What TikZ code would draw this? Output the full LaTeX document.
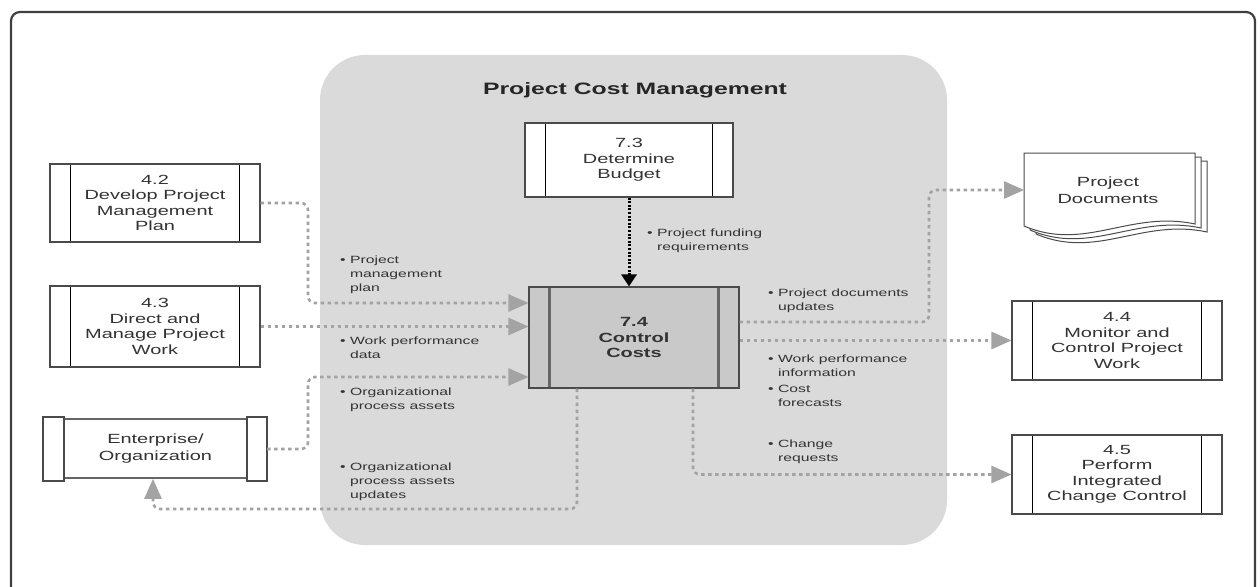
\documentclass[tikz,border=0pt]{standalone}
\usepackage{fontspec}
\setmainfont[FakeStretch=1.5]{Liberation Sans}
\usetikzlibrary{arrows.meta}
\definecolor{regiongray}{HTML}{DADADA}
\definecolor{ccfill}{HTML}{C9C9C9}
\definecolor{conngray}{HTML}{A3A3A3}
\definecolor{boxline}{HTML}{4A4A4A}
\definecolor{txtgray}{HTML}{333333}
\tikzset{
  procbase/.style={draw=boxline, line width=1.1pt, fill=white, minimum width=210pt,
    minimum height=#1, inner sep=0pt, align=center,
    font=\fontsize{13.3}{15.5}\selectfont, text=txtgray},
  procbase/.default=80pt,
  stripes/.style n args={2}{path picture={
    \draw[#1, line width=#2]
      ([xshift=20.5pt]path picture bounding box.north west) -- ([xshift=20.5pt]path picture bounding box.south west)
      ([xshift=-20.5pt]path picture bounding box.north east) -- ([xshift=-20.5pt]path picture bounding box.south east);}},
  proc/.style={procbase=#1, stripes={black}{1.2pt}},
  proc/.default=80pt,
  conn/.style={draw=conngray, line width=2.6pt, dash pattern=on 3.5pt off 3.5pt,
    rounded corners=7pt, -{Triangle[length=20pt,width=17pt,fill=conngray]}},
  fund/.style={draw=black, line width=3pt, dash pattern=on 2pt off 1.6pt,
    -{Triangle[length=12pt,width=15pt,fill=black]}},
  lbl/.style={font=\fontsize{10.5}{14}\selectfont, align=left, inner sep=0pt,
    anchor=north west, text=txtgray},
}
\newcommand{\ind}{\hphantom{\textbullet\ }}
\begin{document}
\begin{tikzpicture}[x=1pt,y=-1pt]
\useasboundingbox (0,0) rectangle (1260,586);
\clip (0,0) rectangle (1260,586);
\fill[white] (0,0) rectangle (1260,586);
% outer frame
\draw[line width=2.2pt, draw=black!75, rounded corners=9pt] (11,600) -- (11,12) -- (1255,12) -- (1255,600);
% process group region
\fill[regiongray, rounded corners=45pt] (320,55) rectangle (947,545);
\node[font=\bfseries\fontsize{16.5}{19}\selectfont, text=black!85] (title) at (635,90) {Project Cost Management};

% boxes
\node[proc=78pt] (b42) at (155,203) {4.2\\Develop Project\\Management\\Plan};
\node[proc=81pt] (b43) at (155,326.5) {4.3\\Direct and\\Manage Project\\Work};
\node[proc=74pt, minimum width=208pt] (b73) at (629,160) {7.3\\Determine\\Budget};
\node[procbase=101pt, fill=ccfill, stripes={black!60}{2.4pt},
      font=\bfseries\fontsize{13.3}{15.5}\selectfont] (b74) at (634,337.5) {7.4\\Control\\Costs};
\node[proc=79pt] (b44) at (1117,340.5) {4.4\\Monitor and\\Control Project\\Work};
\node[proc=79pt] (b45) at (1117,474.5) {4.5\\Perform\\Integrated\\Change Control};

% enterprise / organization
\node[draw=black!60, line width=1.6pt, fill=white, minimum width=183pt, minimum height=59pt,
      inner sep=0pt, align=center, font=\fontsize{13.3}{17.5}\selectfont, text=txtgray]
      (ent) at (155.5,448.5) {Enterprise/\\Organization};
\draw[boxline, line width=1.1pt, fill=white] (43,417) rectangle (64,481);
\draw[boxline, line width=1.1pt, fill=white] (247,417) rectangle (267,481);
\coordinate (entR) at (267,449);

% project documents
\begin{scope}[shift={(12,8)}]
\draw[boxline, line width=1pt, fill=white] (1024,153) -- (1195,153) -- (1195,224) .. controls (1130,210) and (1085,252) .. (1024,226) -- cycle;
\end{scope}
\begin{scope}[shift={(6,4)}]
\draw[boxline, line width=1pt, fill=white] (1024,153) -- (1195,153) -- (1195,224) .. controls (1130,210) and (1085,252) .. (1024,226) -- cycle;
\end{scope}
\draw[boxline, line width=1pt, fill=white] (1024,153) -- (1195,153) -- (1195,224) .. controls (1130,210) and (1085,252) .. (1024,226) -- cycle;
\node[align=center, font=\fontsize{13.3}{17.5}\selectfont, text=txtgray, inner sep=0pt] (pdoc) at (1108,190) {Project\\Documents};
\coordinate (docL) at (1024,190);

% connectors
\draw[fund] (b73.south) -- (b73.south |- b74.north);
\coordinate (c1) at (308,303);
\draw[conn] (b42.east) -| (c1) -- (c1 -| b74.west);
\draw[conn] (b43.east) -- (b43.east -| b74.west);
\coordinate (c3) at (308,377);
\draw[conn] (entR) -| (c3) -- (c3 -| b74.west);
\coordinate (c4) at (577,509);
\coordinate (c4b) at (153,509);
\draw[conn] (c4 |- b74.south) -- (c4) -- (c4b) -- (c4b |- ent.south);
\coordinate (c5) at (693,474.5);
\draw[conn] (c5 |- b74.south) |- (b45.west);
\coordinate (c6) at (929,322);
\draw[conn] (c6 -| b74.east) -- (c6) |- (docL);
\draw[conn] (b44.west -| b74.east) -- (b44.west);

% labels
\node[lbl] (lpmp) at (340,255.5) {\textbullet\ Project\\\ind management\\\ind plan};
\node[lbl] (lwpd) at (340,336.5) {\textbullet\ Work performance\\\ind data};
\node[lbl] (lopa) at (340,387.5) {\textbullet\ Organizational\\\ind process assets};
\node[lbl] (lopu) at (340,462.5) {\textbullet\ Organizational\\\ind process assets\\\ind updates};
\node[lbl] (lfund) at (647,228.5) {\textbullet\ Project funding\\\ind requirements};
\node[lbl] (lpdu) at (768,288.5) {\textbullet\ Project documents\\\ind updates};
\node[lbl] (lwpi) at (768,354.5) {\textbullet\ Work performance\\\ind information};
\node[lbl] (lcost) at (768,384.5) {\textbullet\ Cost\\\ind forecasts};
\node[lbl] (lchg) at (768,439.5) {\textbullet\ Change\\\ind requests};
\end{tikzpicture}
\end{document}
